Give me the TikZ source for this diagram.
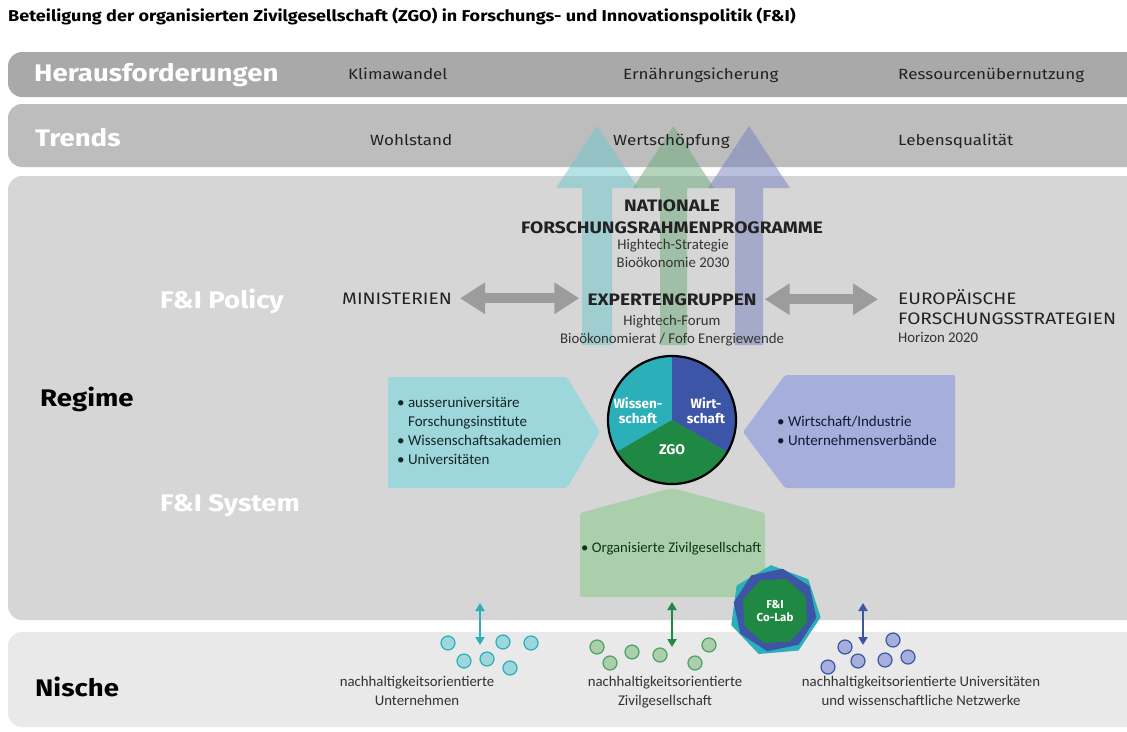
\documentclass[tikz,border=0pt]{standalone}
\usepackage{fontspec}
\setmainfont{Carlito}
\newfontfamily\din{Fira Sans}[FakeStretch=1.15]
\newfontfamily\dinn{Fira Sans}
\usetikzlibrary{arrows.meta,shapes.geometric,calc}
\definecolor{bandA}{HTML}{A9A9A9}
\definecolor{bandB}{HTML}{BDBDBD}
\definecolor{bandC}{HTML}{D6D6D6}
\definecolor{bandD}{HTML}{E9E9E9}
\definecolor{tealL}{HTML}{9DD7DB}
\definecolor{blueL}{HTML}{A6AEDC}
\definecolor{greenL}{HTML}{AACFAA}
\definecolor{tealD}{HTML}{2BAFB9}
\definecolor{blueD}{HTML}{3D55A6}
\definecolor{greenD}{HTML}{1F8842}
\definecolor{tealU}{HTML}{6CC6CC}
\definecolor{greenU}{HTML}{6AAA7A}
\definecolor{blueU}{HTML}{7580C0}
\definecolor{arrowG}{HTML}{9C9C9C}
\definecolor{txt}{HTML}{222222}
\definecolor{subtxt}{HTML}{333333}
\begin{document}
\begin{tikzpicture}[x=1pt,y=-1pt,
  bandlabel/.style={font=\din\bfseries\fontsize{24}{27}\selectfont, text=white, anchor=base west, inner sep=0pt},
  levellabel/.style={font=\din\bfseries\fontsize{24}{27}\selectfont, text=black, anchor=base west, inner sep=0pt},
  banditem/.style={font=\din\fontsize{14.8}{18}\selectfont, text=txt, anchor=base west, inner sep=0pt},
  capsbold/.style={font=\din\bfseries\fontsize{16.6}{19}\selectfont, text=txt, inner sep=0pt},
  capsreg/.style={font=\din\fontsize{16.6}{19}\selectfont, text=txt, inner sep=0pt},
  subtext/.style={font=\fontsize{14.8}{17}\selectfont, text=subtxt, inner sep=0pt},
  boxtext/.style={font=\fontsize{15}{19}\selectfont, align=left, inner sep=0pt, anchor=north west},
  pietext/.style={font=\dinn\bfseries\fontsize{13.5}{15}\selectfont, text=white, align=center, inner sep=0pt},
  nichetext/.style={font=\fontsize{14.8}{19}\selectfont, text=subtxt, align=center, inner sep=0pt, anchor=north},
  grayarrow/.style={draw=arrowG, line width=10pt, {Triangle[width=30pt,length=25pt]}-{Triangle[width=30pt,length=25pt]}},
  vertarrow/.style={line width=2.5pt, {Triangle[width=9pt,length=8pt]}-{Triangle[width=9pt,length=8pt]}},
  tealdot/.style={circle, minimum size=14pt, inner sep=0pt, fill=tealL, draw=tealD, line width=1.2pt},
  greendot/.style={circle, minimum size=14pt, inner sep=0pt, fill=greenL, draw=greenD!80, line width=1.2pt},
  bluedot/.style={circle, minimum size=14pt, inner sep=0pt, fill=blueL, draw=blueD, line width=1.2pt},
  uparrow/.style={fill opacity=0.5}
]
\useasboundingbox (0,0) rectangle (1127,731);
\clip (0,0) rectangle (1127,731);
\fill[white] (0,0) rectangle (1127,731);

% bands
\fill[bandA, rounded corners=14pt] (8,52) rectangle (1160,97);
\fill[bandB, rounded corners=14pt] (8,104) rectangle (1160,167);
\fill[bandC, rounded corners=14pt] (8,176) rectangle (1160,620);
\fill[bandD, rounded corners=14pt] (8,632) rectangle (1160,727);

% upward arrows
\fill[tealU, uparrow] (582,345) -- (582,188) -- (556,188) -- (597,126) -- (638,188) -- (612,188) -- (612,345) -- cycle;
\fill[greenU, uparrow] (660,345) -- (660,188) -- (633,188) -- (673.5,126) -- (714,188) -- (687,188) -- (687,345) -- cycle;
\fill[blueU, uparrow] (735,345) -- (735,188) -- (708,188) -- (749,126) -- (790,188) -- (763,188) -- (763,345) -- cycle;

% title
\node[anchor=base west, inner sep=0pt, font=\din\bfseries\fontsize{15.7}{18}\selectfont] (title) at (8,21)
  {Beteiligung der organisierten Zivilgesellschaft (ZGO) in Forschungs- und Innovationspolitik (F\&I)};

% band texts
\node[bandlabel] (her) at (34,81) {Herausforderungen};
\node[banditem] (klima) at (348,79) {Klimawandel};
\node[banditem] (ernae) at (623,79) {Ernährungsicherung};
\node[banditem] (ress) at (898,79) {Ressourcenübernutzung};
\node[bandlabel] (trends) at (35,146) {Trends};
\node[banditem] (wohl) at (370,145) {Wohlstand};
\node[banditem] (wert) at (613,145) {Wertschöpfung};
\node[banditem] (leben) at (898,145) {Lebensqualität};

% level labels
\node[bandlabel] (policy) at (160,308) {F\&I Policy};
\node[levellabel] (regime) at (40,406) {Regime};
\node[bandlabel] (system) at (160,511) {F\&I System};
\node[levellabel] (nische) at (35,696) {Nische};

% national programmes
\node[capsbold, anchor=base] (nat1) at (672,211) {NATIONALE};
\node[capsbold, anchor=base] (nat2) at (672,233) {FORSCHUNGSRAHMENPROGRAMME};
\node[subtext, anchor=base] (nat3) at (673,249) {Hightech-Strategie};
\node[subtext, anchor=base] (nat4) at (673,267) {Bioökonomie 2030};

% policy row
\node[capsreg, anchor=base west] (min) at (342,304) {MINISTERIEN};
\node[capsbold, anchor=base] (exp) at (672,305) {EXPERTENGRUPPEN};
\node[subtext, anchor=base] (exp2) at (672,325) {Hightech-Forum};
\node[subtext, anchor=base] (exp3) at (672,343) {Bioökonomierat / Fofo Energiewende};
\node[capsreg, anchor=base west] (eu1) at (898,304) {EUROPÄISCHE};
\node[capsreg, anchor=base west] (eu2) at (898,324) {FORSCHUNGSSTRATEGIEN};
\node[subtext, anchor=base west] (eu3) at (898,342) {Horizon 2020};

\draw[grayarrow, shorten <=8pt, shorten >=8pt] (min.east) -- (min.east -| exp.west);
\draw[grayarrow, shorten <=8pt, shorten >=20pt] (exp.east) -- (exp.east -| eu1.west);

% left box (Wissenschaft)
\fill[tealL, rounded corners=2pt] (388,377) -- (567,377) -- (600,432) -- (567,488) -- (388,488) -- cycle;
\node[boxtext, text=txt!80!tealD!60!black] (wtext) at (397,397)
  {• ausseruniversitäre\\\phantom{• }Forschungsinstitute\\• Wissenschaftsakademien\\• Universitäten};

% right box (Wirtschaft)
\fill[blueL, rounded corners=2pt] (743,432) -- (785,375) -- (955,375) -- (955,488) -- (785,488) -- cycle;
\node[boxtext, text=blueD!30!black] (btext) at (777,416)
  {• Wirtschaft/Industrie\\• Unternehmensverbände};

% green box (ZGO)
\fill[greenL, rounded corners=2pt] (580,597) -- (580,513) -- (672,488) -- (765,513) -- (765,597) -- cycle;
\node[boxtext, font=\fontsize{14.7}{17}\selectfont, text=greenD!40!black] (gtext) at (581,542)
  {• Organisierte Zivilgesellschaft};

% pie
\coordinate (pc) at (672,420);
\begin{scope}
  \clip (pc) circle[radius=64];
  \fill[tealD] ($(pc)+(-100,-100)$) rectangle ($(pc)+(100,100)$);
  \fill[blueD] (pc) -- ($(pc)+(0,-200)$) -- ($(pc)+(200,-200)$) -- ($(pc)+(200,115.5)$) -- cycle;
  \fill[greenD] (pc) -- ($(pc)+(200,115.5)$) -- ($(pc)+(200,200)$) -- ($(pc)+(-200,200)$) -- ($(pc)+(-200,115.5)$) -- cycle;
\end{scope}
\node[circle, draw=black, line width=2.2pt, minimum size=128pt, inner sep=0pt] (pie) at (pc) {};
\node[pietext] (pw) at (638,411) {Wissen-\\schaft};
\node[pietext] (pb) at (706,411) {Wirt-\\schaft};
\node[pietext, font=\dinn\bfseries\fontsize{14}{15}\selectfont] (pz) at (672,450) {ZGO};

% Co-Lab
\node[regular polygon, regular polygon sides=7, minimum size=92pt, inner sep=0pt, fill=tealD, rotate=5] (cl1) at (775,611) {};
\node[regular polygon, regular polygon sides=8, minimum size=84pt, inner sep=0pt, fill=blueD, rotate=12] (cl2) at (775,610) {};
\node[regular polygon, regular polygon sides=8, minimum size=68pt, inner sep=0pt, fill=greenD, rotate=3] (cl3) at (775,611) {};
\node[pietext, font=\dinn\bfseries\fontsize{11.5}{13.5}\selectfont] (cltext) at (775,611) {F\&I\\Co-Lab};

% vertical arrows
\coordinate (ta) at (480,603); \coordinate (tb) at (480,645);
\coordinate (ga) at (672,602); \coordinate (gb) at (672,647);
\coordinate (ba) at (863,603); \coordinate (bb) at (863,645);
\draw[vertarrow, draw=tealD, fill=tealD] (ta) -- (tb);
\draw[vertarrow, draw=greenD, fill=greenD] (ga) -- (gb);
\draw[vertarrow, draw=blueD, fill=blueD] (ba) -- (bb);

% dots
\node[tealdot] (t1) at (448,643) {};
\node[tealdot] (t2) at (464,661) {};
\node[tealdot] (t3) at (487,659) {};
\node[tealdot] (t4) at (503,642) {};
\node[tealdot] (t5) at (531,643) {};
\node[tealdot] (t6) at (510,668) {};
\node[greendot] (g1) at (597,647) {};
\node[greendot] (g2) at (610,663) {};
\node[greendot] (g3) at (632,652) {};
\node[greendot] (g4) at (660,655) {};
\node[greendot] (g5) at (695,663) {};
\node[greendot] (g6) at (709,645) {};
\node[bluedot] (b1) at (828,667) {};
\node[bluedot] (b2) at (845,647) {};
\node[bluedot] (b3) at (858,661) {};
\node[bluedot] (b4) at (885,660) {};
\node[bluedot] (b5) at (893,640) {};
\node[bluedot] (b6) at (908,657) {};

% niche labels
\node[nichetext] (n1) at (417,676) {nachhaltigkeitsorientierte\\Unternehmen};
\node[nichetext] (n2) at (665,676) {nachhaltigkeitsorientierte\\Zivilgesellschaft};
\node[nichetext] (n3) at (921,676) {nachhaltigkeitsorientierte Universitäten\\und wissenschaftliche Netzwerke};
\end{tikzpicture}
\end{document}
